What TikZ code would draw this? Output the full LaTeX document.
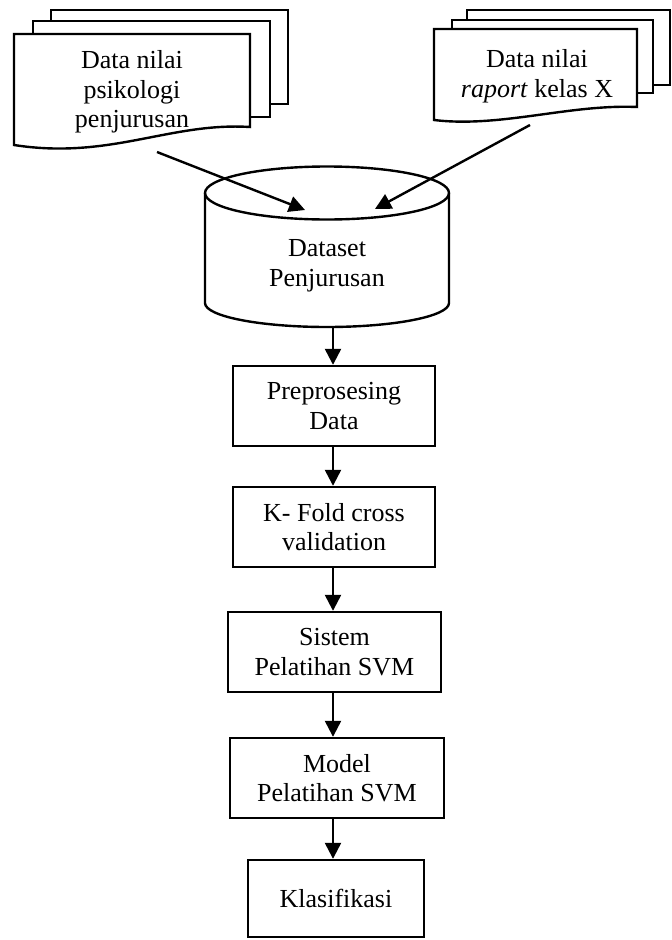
\documentclass[tikz,border=0pt]{standalone}
\usepackage{fontspec}
\setmainfont{Liberation Serif}
\usetikzlibrary{arrows.meta}
\tikzset{
  lw/.style={line width=2.4pt},
  txt/.style={align=center, font=\fontsize{26}{29.5}\selectfont, inner sep=0pt},
  procbox/.style={draw, lw, align=center, font=\fontsize{26}{29.5}\selectfont, inner sep=0pt},
  flow/.style={lw, -{Triangle[length=16pt,width=16pt]}},
  page/.style={draw, lw, fill=white, line join=miter}
}
\begin{document}
\begin{tikzpicture}[x=1pt,y=-1pt]
\useasboundingbox (0,0) rectangle (672,940);
% left document stack
\draw[page] (51,104) -- (51,10) -- (288,10) -- (288,104) -- cycle;
\draw[page] (33,117) -- (33,21) -- (270,21) -- (270,117) -- cycle;
\draw[page] (14,145) -- (14,34) -- (250,34) -- (250,127)
  .. controls (170,122) and (110,160) .. (14,145) -- cycle;
\node[txt] (docL) at (132,92) {Data nilai\\psikologi\\penjurusan};
% right document stack
\draw[page] (467,85) -- (467,10) -- (670,10) -- (670,85) -- cycle;
\draw[page] (452,93) -- (452,20) -- (653,20) -- (653,93) -- cycle;
\draw[page] (434,120) -- (434,29) -- (637,29) -- (637,107)
  .. controls (570,104) and (500,128) .. (434,120) -- cycle;
\node[txt] (docR) at (537,76) {Data nilai\\\textit{raport} kelas X};
% cylinder
\draw[lw] (205,193) -- (205,303) arc[start angle=180, end angle=0, x radius=122, y radius=24] -- (449,193);
\draw[lw] (327,193) ellipse[x radius=122, y radius=26.5];
\node[txt] (cyl) at (327,266) {Dataset\\Penjurusan};
\coordinate (cylbot) at (333,327);
\coordinate (cylL) at (305,210);
\coordinate (cylR) at (375,209);
\coordinate (docLout) at (157,152);
\coordinate (docRout) at (530,125);
% process boxes
\node[procbox, minimum width=202pt, minimum height=80pt] (pre) at (334,406) {Preprosesing\\Data};
\node[procbox, minimum width=202pt, minimum height=80pt] (kfold) at (334,527) {K- Fold cross\\validation};
\node[procbox, minimum width=213pt, minimum height=80pt] (sis) at (334.5,652) {Sistem\\Pelatihan SVM};
\node[procbox, minimum width=214pt, minimum height=80pt] (mod) at (337,778) {Model\\Pelatihan SVM};
\node[procbox, minimum width=176pt, minimum height=77pt] (kla) at (336,898.5) {Klasifikasi};
% connectors
\draw[flow] (docLout) -- (cylL);
\draw[flow] (docRout) -- (cylR);
\draw[flow] (cylbot) -- (cylbot |- pre.north);
\draw[flow] (pre.south -| cylbot) -- (cylbot |- kfold.north);
\draw[flow] (kfold.south -| cylbot) -- (cylbot |- sis.north);
\draw[flow] (sis.south -| cylbot) -- (cylbot |- mod.north);
\draw[flow] (mod.south -| cylbot) -- (cylbot |- kla.north);
\end{tikzpicture}
\end{document}
